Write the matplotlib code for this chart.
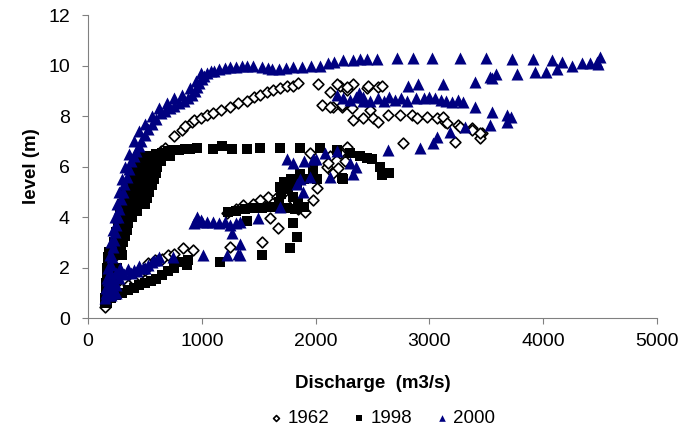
import matplotlib
matplotlib.use('Agg')
import matplotlib.pyplot as plt

plt.rcParams['font.family'] = ['Liberation Sans', 'DejaVu Sans']

# 1962 - open diamonds
q_1962 = [150, 165, 180, 195, 210, 225, 240, 255, 270, 290, 310, 340, 380, 413, 466, 520, 589, 640, 677, 760,
          826, 850, 914, 930, 993, 1050, 1098, 1170, 1248, 1320, 1397, 1460, 1511, 1570, 1625, 1690, 1748, 1800,
          1845, 2021, 2127, 2214, 2276, 2329, 2452, 2188, 2276, 2460, 2548, 2583, 2056, 2153, 2232, 2320, 2127,
          2232, 2478, 2329, 2417, 2505, 2548, 2636, 2742, 2847, 2891, 2979, 3067, 3137, 3251, 3374, 3462, 3445,
          2768, 3225, 3119, 3155, 3269, 3374, 3445,
          200, 250, 300, 350, 400, 450, 500, 527, 589, 650, 700, 760, 835, 923, 1248, 1529, 1670, 1599, 1511,
          1582, 1660, 1713, 1362, 1221, 1907, 1977, 2012, 2100, 2153, 2276, 2214, 1951, 2127, 2109, 2197, 2260,
          1800, 1850, 1450, 1300]
h_1962 = [0.45, 0.7, 1.0, 1.4, 1.9, 2.4, 2.9, 3.4, 3.8, 4.2, 4.6, 5.0, 5.3, 5.75, 5.9, 6.1, 6.4, 6.6, 6.75, 7.2,
          7.46, 7.6, 7.78, 7.85, 7.94, 8.05, 8.13, 8.25, 8.37, 8.5, 8.6, 8.75, 8.85, 8.95, 9.05, 9.1, 9.17, 9.2,
          9.3, 9.25, 8.97, 9.17, 9.05, 9.25, 9.1, 9.25, 9.13, 9.17, 9.13, 9.17, 8.45, 8.37, 8.37, 8.33, 8.37,
          8.45, 8.25, 7.86, 7.94, 7.94, 7.78, 8.05, 8.05, 8.05, 7.94, 7.98, 7.94, 7.78, 7.66, 7.54, 7.34, 7.14,
          6.94, 6.98, 7.98, 7.74, 7.58, 7.46, 7.34,
          1.0, 1.1, 1.2, 1.3, 1.5, 1.7, 1.9, 2.18, 2.3, 2.35, 2.5, 2.55, 2.78, 2.7, 2.82, 3.02, 3.57, 3.97, 4.68,
          4.8, 4.8, 4.96, 4.48, 4.17, 4.2, 4.68, 5.16, 6.0, 5.75, 6.79, 6.55, 6.55, 6.4, 6.15, 5.95, 6.2,
          4.5, 4.3, 4.5, 4.3]

# 1998 - black squares
q_1998 = [170, 180, 190, 200, 210, 220, 230, 245, 260, 280, 300, 330, 360, 390, 420, 450, 480, 520, 560, 600,
          650, 700, 750, 800, 850, 900, 960, 1100, 1180, 1270, 1400, 1510, 1690, 1860, 2040, 2190, 2300, 2390,
          2450, 2500, 2570, 2650, 2580, 2230,
          190, 210, 230, 195, 215, 240, 210, 230, 255, 225, 250, 280, 300, 260, 285, 310, 280, 310, 340,
          300, 335, 370, 390, 330, 370, 420, 480, 500, 350, 400, 450, 500, 540, 380, 430, 480, 530, 580,
          420, 470, 520, 570, 610, 480, 540, 600, 660, 720, 150, 160, 165, 170, 180,
          240, 265, 290, 270, 295, 325, 290, 320, 355, 315, 350, 390, 430, 340, 385, 435, 490, 520,
          365, 415, 465, 515, 560, 400, 450, 500, 550, 600, 450, 500, 550, 600, 640,
          150, 155, 160, 170, 175, 185,
          200, 250, 300, 350, 400, 450, 500, 550, 600, 650, 700, 760, 820, 880, 870, 1160, 1530, 1775, 1840,
          1800, 1230, 1300, 1380, 1450, 1530, 1600, 1680, 1750, 1820, 1400,
          1680, 1700, 1690, 1720, 1780, 1840, 1860, 1900, 1980, 2010, 2240, 1800, 1760, 1850, 1900]
h_1998 = [0.6, 0.9, 1.2, 1.6, 2.0, 2.5, 3.0, 3.4, 3.8, 4.2, 4.5, 4.9, 5.2, 5.5, 5.8, 6.0, 6.15, 6.3, 6.4, 6.5,
          6.55, 6.6, 6.65, 6.65, 6.7, 6.7, 6.75, 6.7, 6.8, 6.7, 6.7, 6.75, 6.75, 6.75, 6.75, 6.65, 6.55, 6.4,
          6.35, 6.3, 6.0, 5.75, 5.65, 5.55,
          1.0, 1.0, 1.0, 1.5, 1.5, 1.5, 2.0, 2.0, 2.0, 2.5, 2.5, 2.5, 2.5, 3.0, 3.0, 3.0, 3.5, 3.5, 3.5,
          4.0, 4.0, 4.0, 4.0, 4.5, 4.5, 4.5, 4.5, 4.5, 5.0, 5.0, 5.0, 5.0, 5.0, 5.5, 5.5, 5.5, 5.5, 5.5,
          6.0, 6.0, 6.0, 6.0, 6.0, 6.4, 6.4, 6.4, 6.4, 6.4, 0.8, 1.2, 1.6, 2.0, 2.4,
          2.75, 2.75, 2.75, 3.25, 3.25, 3.25, 3.75, 3.75, 3.75, 4.25, 4.25, 4.25, 4.25, 4.75, 4.75, 4.75, 4.75, 4.75,
          5.25, 5.25, 5.25, 5.25, 5.25, 5.75, 5.75, 5.75, 5.75, 5.75, 6.2, 6.2, 6.2, 6.2, 6.2,
          0.6, 1.0, 1.4, 1.8, 2.2, 2.6,
          0.8, 0.9, 1.0, 1.1, 1.2, 1.3, 1.4, 1.45, 1.55, 1.7, 1.85, 2.0, 2.2, 2.3, 2.1, 2.22, 2.5, 2.78, 3.2,
          3.77, 4.2, 4.25, 4.3, 4.35, 4.35, 4.4, 4.4, 4.35, 4.3, 3.85,
          4.6, 4.9, 5.2, 5.4, 5.5, 5.3, 5.7, 5.5, 5.85, 5.5, 5.5, 4.8, 5.1, 4.6, 4.4]

# 2000 - blue triangles
q_2000 = [150, 165, 175, 180, 190, 200, 210, 220, 230, 240, 250, 262, 275, 290, 305, 320, 340, 360, 380, 400,
          420, 445, 470, 500, 530, 560, 600, 640, 680, 720, 760, 800, 840, 880, 910, 940, 960, 980, 1000, 1020,
          1050, 1080, 1110, 1150, 1200, 1250, 1300, 1350, 1400, 1450, 1530, 1580, 1620, 1680, 1740, 1800, 1880,
          1960, 2040, 2110, 2160, 2240, 2330, 2390, 2450, 2540, 2720, 2860, 3020, 3270, 3500, 3730, 3910, 4080,
          4170, 4340, 4410, 4470, 4500, 4480, 4250, 4120, 4030, 3930, 3770, 3590, 3550, 3530, 3400, 3120, 2900,
          2810, 2750, 2650, 2550, 2480, 2420, 2360, 2300, 2240, 2190, 2380, 2420, 2600, 2700, 2800, 2880, 2950,
          3000, 3050, 3100, 3150, 3200, 3250, 3300, 3400, 3550, 3680, 3720, 3530, 3680, 3310, 3180, 3070, 3030,
          2920, 2640,
          160, 170, 180, 195, 205, 220, 235, 255, 270, 295, 325, 360, 400, 450, 500, 560, 620, 690, 760, 830,
          900, 950, 990,
          2360, 2300, 2330, 2130, 2190, 2080, 1980, 1900, 1800, 1750, 2000, 1890, 1860, 1690, 1490, 1340, 1300,
          1250, 1200, 1150, 1100, 1050, 1000, 960, 930, 990, 1270, 1340, 1340, 1220, 1010, 750, 610, 560, 500,
          450, 400, 350, 300, 270, 250, 230, 200, 180, 160, 1840, 1950, 1320,
          200, 220, 250, 280, 320, 380, 430, 480, 530, 580, 620, 180, 210, 250]
h_2000 = [0.8, 1.0, 1.2, 1.5, 1.8, 2.1, 2.4, 2.8, 3.1, 3.4, 3.7, 4.0, 4.3, 4.7, 5.0, 5.3, 5.6, 5.9, 6.2, 6.4,
          6.6, 6.8, 7.0, 7.25, 7.5, 7.7, 7.9, 8.1, 8.2, 8.3, 8.4, 8.5, 8.6, 8.7, 8.85, 9.0, 9.15, 9.3, 9.45, 9.6,
          9.7, 9.8, 9.8, 9.85, 9.9, 9.95, 9.95, 10.0, 10.0, 10.0, 9.95, 9.9, 9.85, 9.85, 9.9, 9.95, 9.95,
          10.0, 10.0, 10.1, 10.15, 10.2, 10.2, 10.25, 10.25, 10.25, 10.3, 10.3, 10.3, 10.3, 10.3, 10.25, 10.25, 10.2,
          10.15, 10.1, 10.1, 10.15, 10.35, 10.05, 10.0, 9.85, 9.75, 9.75, 9.65, 9.65, 9.5, 9.55, 9.33, 9.25, 9.25,
          9.17, 8.7, 8.75, 8.7, 8.6, 8.75, 8.75, 8.65, 8.7, 8.85, 8.9, 8.6, 8.6, 8.65, 8.6, 8.7, 8.7,
          8.75, 8.7, 8.65, 8.6, 8.55, 8.65, 8.55, 8.35, 8.15, 8.05, 7.95, 7.65, 7.75, 7.55, 7.35, 7.15, 6.95,
          6.75, 6.65,
          1.2, 1.6, 2.0, 2.5, 3.0, 3.5, 4.0, 4.5, 5.0, 5.5, 6.0, 6.5, 7.0, 7.4, 7.7, 8.0, 8.3, 8.5, 8.7, 8.85,
          9.1, 9.4, 9.7,
          6.0, 6.15, 5.7, 5.6, 6.6, 6.55, 6.3, 6.2, 6.15, 6.3, 6.3, 5.0, 5.5, 4.4, 3.97, 3.8, 3.75,
          3.7, 3.8, 3.75, 3.8, 3.8, 3.8, 4.0, 3.75, 3.9, 3.35, 2.95, 2.5, 2.5, 2.5, 2.4, 2.3, 2.2, 2.0,
          2.05, 1.9, 1.95, 1.8, 1.6, 1.3, 1.1, 0.9, 0.9, 1.0, 5.3, 5.6, 2.55,
          1.2, 1.5, 1.8, 2.0, 1.75, 1.8, 1.85, 2.0, 2.1, 2.3, 2.4, 1.3, 1.0, 1.0]

fig = plt.figure(figsize=(6.78, 4.29), dpi=100)
ax = fig.add_axes([0.1298, 0.2587, 0.839, 0.7063])

ax.scatter(q_1962, h_1962, marker='D', s=30, facecolors='white', edgecolors='black', linewidths=1.2,
           label='1962', zorder=2)
ax.scatter(q_1998, h_1998, marker='s', s=55, color='black', linewidths=0, label='1998', zorder=3)
ax.scatter(q_2000, h_2000, marker='^', s=75, color='#000080', linewidths=0, label='2000', zorder=4)

ax.set_xlim(0, 5000)
ax.set_ylim(0, 12)
ax.set_xticks(range(0, 5001, 1000))
ax.set_yticks(range(0, 13, 2))
for s in ['top', 'right']:
    ax.spines[s].set_visible(False)
for s in ['left', 'bottom']:
    ax.spines[s].set_color('#808080')
ax.tick_params(direction='out', length=4, color='#808080', labelsize=14)
ax.tick_params(axis='x', pad=7)
ax.tick_params(axis='y', pad=9)

ax.set_xlabel('Discharge  (m3/s)', fontsize=13.5, fontweight='bold')
ax.set_ylabel('level (m)', fontsize=13.5, fontweight='bold')
ax.xaxis.set_label_coords(0.5, -0.188)
ax.yaxis.set_label_coords(-0.084, 0.5)

leg = fig.legend(loc='center', bbox_to_anchor=(380 / 678, 0.024), ncol=3, frameon=False, fontsize=13.5,
                 handletextpad=0.0, columnspacing=1.0, markerscale=0.55, handlelength=1.2)

fig.savefig('out.png', dpi=100)
